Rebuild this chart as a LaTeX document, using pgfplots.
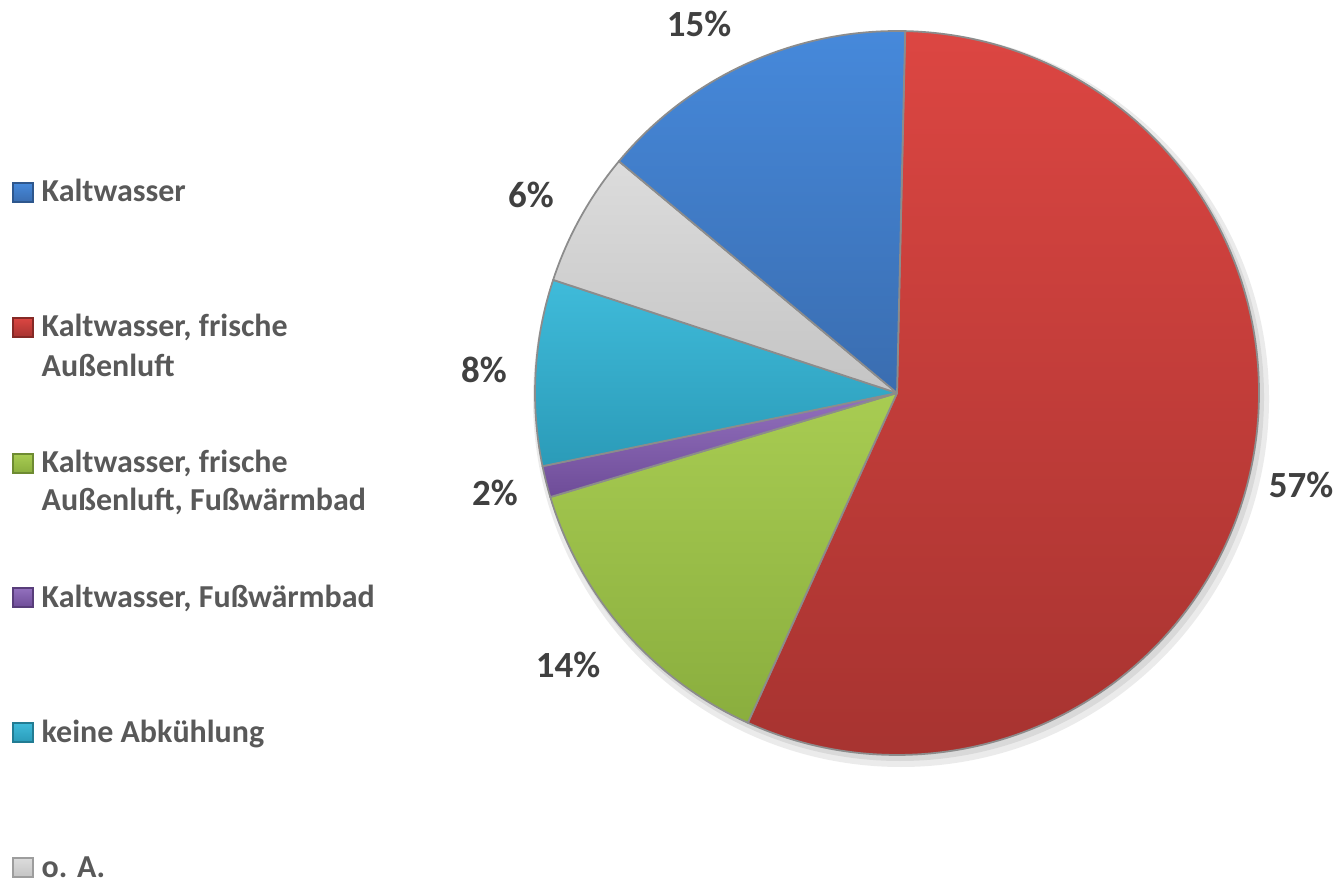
\documentclass[border=0pt]{standalone}
\usepackage{fontspec}
\setmainfont{Carlito}
\usepackage{pgfplots}
\usepackage{pgfplotstable}
\pgfplotsset{compat=1.18}

\definecolor{blueT}{HTML}{4689DB}\definecolor{blueB}{HTML}{3A6DB0}
\definecolor{redT}{HTML}{DC4642}\definecolor{redB}{HTML}{A63330}
\definecolor{greenT}{HTML}{A8CC52}\definecolor{greenB}{HTML}{8AAE3E}
\definecolor{purpleT}{HTML}{9371BE}\definecolor{purpleB}{HTML}{6E4C98}
\definecolor{cyanT}{HTML}{3FBBDA}\definecolor{cyanB}{HTML}{2B9BB8}
\definecolor{grayT}{HTML}{DCDCDC}\definecolor{grayB}{HTML}{C4C4C4}
\definecolor{legtext}{HTML}{595959}
\definecolor{labtext}{HTML}{404040}

% slices clockwise from the top: red, green, purple, cyan, gray, blue
\pgfplotstableread{
value label lx ly
56.4 57 1301 485
13.6 14 568 665
1.4 2 495 493
8.3 8 484 370
6.0 6 531 195
14.3 15 699 24
}\piedata

\def\cur{88.7}%
\def\total{0}%
\pgfplotsforeachungrouped \i in {0,...,5}{%
  \pgfplotstablegetelem{\i}{value}\of\piedata
  \pgfmathsetmacro\total{\total+\pgfplotsretval}}%
\expandafter\xdef\csname pa0\endcsname{\cur}%
\pgfplotsforeachungrouped \i in {0,...,5}{%
  \pgfplotstablegetelem{\i}{value}\of\piedata
  \pgfmathsetmacro\cur{\cur-\pgfplotsretval/\total*360}%
  \pgfmathtruncatemacro\j{\i+1}%
  \expandafter\xdef\csname pa\j\endcsname{\cur}%
  \pgfplotstablegetelem{\i}{label}\of\piedata
  \expandafter\xdef\csname lb\i\endcsname{\pgfplotsretval}%
  \pgfplotstablegetelem{\i}{lx}\of\piedata
  \pgfmathsetmacro\tmp{\pgfplotsretval/100}%
  \expandafter\xdef\csname lx\i\endcsname{\tmp}%
  \pgfplotstablegetelem{\i}{ly}\of\piedata
  \pgfmathsetmacro\tmp{8.8-\pgfplotsretval/100}%
  \expandafter\xdef\csname ly\i\endcsname{\tmp}%
}%

\def\cx{8.97}\def\cy{4.87}\def\r{3.62}

\newcommand\pieslice[4]{%
  \path[top color=#3,bottom color=#4,draw=black!45,line width=0.5pt,line join=round]
    (axis cs:\cx,\cy) --
    (axis cs:{\cx+\r*cos(\csname pa#1\endcsname)},{\cy+\r*sin(\csname pa#1\endcsname)})
    arc[start angle=\csname pa#1\endcsname, end angle=\csname pa#2\endcsname, radius=\r cm] -- cycle;}
\newcommand\pielabel[1]{%
  \node[font=\fontsize{10.5}{12.6}\selectfont\bfseries,text=labtext,inner sep=0pt]
    at (axis cs:\csname lx#1\endcsname,\csname ly#1\endcsname) {\csname lb#1\endcsname\%};}
% legend: #1 baseline (px), #2 top, #3 bottom colour
\newcommand\legsq[3]{%
  \path[top color=#2,bottom color=#3,draw=#3!80!black,line width=0.3pt]
    (axis cs:0.13,{8.8-#1/100}) rectangle (axis cs:0.33,{8.8-(#1-19)/100});}
\newcommand\legline[2]{%
  \node[font=\fontsize{9.1}{11}\selectfont\bfseries,text=legtext,anchor=base west,inner sep=0pt]
    at (axis cs:0.41,{8.8-#1/100}) {#2};}

\begin{document}
\begin{tikzpicture}
\begin{axis}[x=1cm,y=1cm,xmin=0,xmax=13.4,ymin=0,ymax=8.8,
  hide axis,clip=false,anchor=origin,at={(0,0)}]
  % soft shadow
  \fill[black,opacity=0.08] (axis cs:\cx+0.04,\cy-0.06) circle[radius=3.68cm];
  \fill[black,opacity=0.08] (axis cs:\cx+0.03,\cy-0.04) circle[radius=3.64cm];
  \pieslice{0}{1}{redT}{redB}
  \pieslice{1}{2}{greenT}{greenB}
  \pieslice{2}{3}{purpleT}{purpleB}
  \pieslice{3}{4}{cyanT}{cyanB}
  \pieslice{4}{5}{grayT}{grayB}
  \pieslice{5}{6}{blueT}{blueB}
  \pielabel{0}\pielabel{1}\pielabel{2}\pielabel{3}\pielabel{4}\pielabel{5}
  % legend
  \legsq{202}{blueT}{blueB}\legline{202}{Kaltwasser}
  \legsq{337}{redT}{redB}\legline{337}{Kaltwasser, frische}\legline{377}{Außenluft}
  \legsq{473}{greenT}{greenB}\legline{473}{Kaltwasser, frische}\legline{511}{Außenluft, Fußwärmbad}
  \legsq{607}{purpleT}{purpleB}\legline{607}{Kaltwasser, Fußwärmbad}
  \legsq{742}{cyanT}{cyanB}\legline{742}{keine Abkühlung}
  \legsq{877}{grayT}{grayB}\legline{877}{o. A.}
\end{axis}
\pgfresetboundingbox
\path[use as bounding box] (0,0) rectangle (13.4,8.8);
\end{tikzpicture}
\end{document}
